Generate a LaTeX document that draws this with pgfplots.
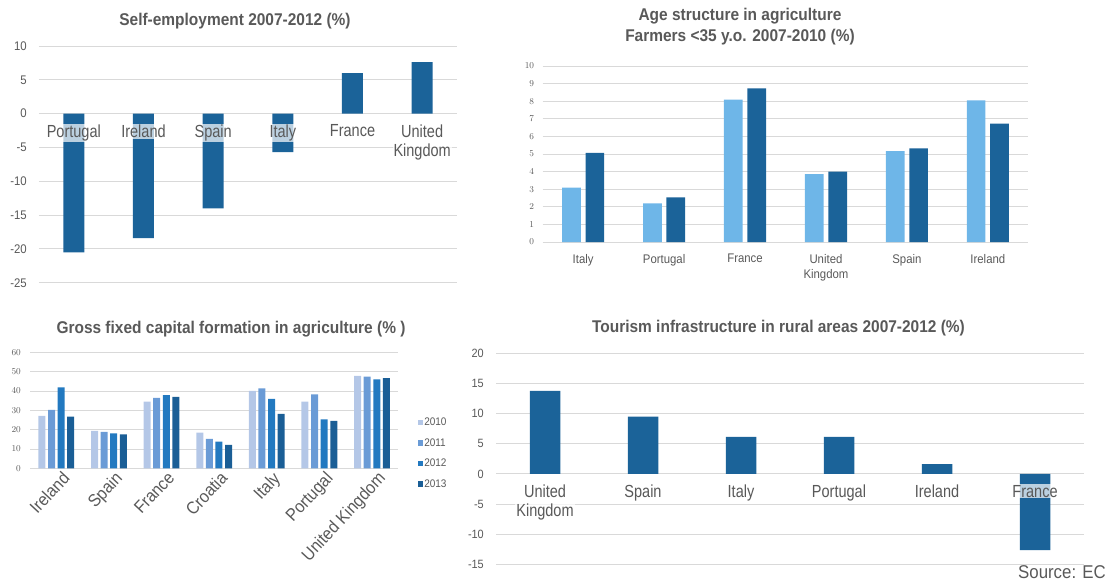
\documentclass[border=0pt]{standalone}
\usepackage{pgfplots}
\pgfplotsset{compat=1.18}
\usepackage{fontspec}
\setmainfont{Liberation Sans}
\newfontfamily\fA[FakeStretch=0.91]{Liberation Sans}
\newfontfamily\fB[FakeStretch=0.83]{Liberation Sans}

\definecolor{txt}{HTML}{595959}
\definecolor{gridgray}{HTML}{D9D9D9}
\definecolor{barblue}{HTML}{1B6399}
\definecolor{lightblue}{HTML}{6EB6E8}
\definecolor{yA}{HTML}{B4C7E7}
\definecolor{yB}{HTML}{6A9BD6}
\definecolor{yC}{HTML}{2279C0}
\definecolor{yD}{HTML}{1A5E96}

\pgfplotsset{
  panel/.style={
    scale only axis, clip=false,
    axis line style={draw=none},
    major tick length=0pt, tick style={draw=none},
    ymajorgrids, grid style={draw=gridgray, line width=0.8pt},
    xtick=\empty, xmin=-0.5, xmax=5.5,
    yticklabel style={text=txt, anchor=east, inner sep=0pt},
  },
  sq legend/.style={legend image code/.code={\fill[##1] (0pt,-2.6pt) rectangle (5.2pt,2.6pt);}},
}
\tikzset{
  cat/.style={anchor=north, font=\fB\fontsize{17.5}{19}\selectfont, text=txt, align=center,
    fill=white, fill opacity=0.7, text opacity=1, inner sep=1pt, yshift=-10pt},
  catsmall/.style={anchor=north, font=\fA\fontsize{12.5}{15.3}\selectfont, text=txt, align=center,
    inner sep=0pt, yshift=-12pt},
  ttl/.style={anchor=base, font=\fA\bfseries\fontsize{17}{20}\selectfont, text=txt},
}

\begin{document}
\begin{tikzpicture}
\path[use as bounding box] (0pt,0pt) rectangle (1108pt,582pt);

% Self-employment
\begin{scope}[shift={(39pt,299.3pt)}]
\begin{axis}[panel, width=418pt, height=236.7pt,
  ymin=-25, ymax=10, ytick={-25,-20,...,10}, yticklabels={-25,-20,-15,-10,-5,0,5,10},
  yticklabel style={font=\fA\fontsize{12.5}{14}\selectfont, xshift=-12pt},
  ybar, bar width=21pt]
\addplot[fill=barblue, draw=none] coordinates {(0,-20.5) (1,-18.4) (2,-14.0) (3,-5.7) (4,6.0) (5,7.6)};
\node[cat] at (axis cs:0,0) {Portugal};
\node[cat] at (axis cs:1,0) {Ireland};
\node[cat] at (axis cs:2,0) {Spain};
\node[cat] at (axis cs:3,0) {Italy};
\node[cat] at (axis cs:4,0) {France};
\node[cat] at (axis cs:5,0) {United\\Kingdom};
\end{axis}
\end{scope}

% Farmers under 35
\begin{scope}[shift={(542.7pt,340pt)}]
\begin{axis}[panel, width=485.6pt, height=176pt,
  ymin=0, ymax=10, ytick={0,1,...,10},
  yticklabel style={font=\fA\fontsize{9.5}{11}\selectfont, xshift=-8.4pt},
  ybar=4.7pt, bar width=18.7pt]
\addplot[fill=lightblue, draw=none] coordinates {(0,3.09) (1,2.20) (2,8.09) (3,3.86) (4,5.17) (5,8.05)};
\addplot[fill=barblue, draw=none] coordinates {(0,5.06) (1,2.54) (2,8.73) (3,4.00) (4,5.32) (5,6.72)};
\node[catsmall] at (axis cs:0,0) {Italy};
\node[catsmall] at (axis cs:1,0) {Portugal};
\node[catsmall] at (axis cs:2,0) {France};
\node[catsmall] at (axis cs:3,0) {United\\Kingdom};
\node[catsmall] at (axis cs:4,0) {Spain};
\node[catsmall] at (axis cs:5,0) {Ireland};
\end{axis}
\end{scope}

% Gross fixed capital formation
\begin{scope}[shift={(30pt,113.7pt)}]
\begin{axis}[panel, width=368.3pt, height=116pt,
  ymin=0, ymax=60, ytick={0,10,...,60},
  yticklabel style={font=\fB\fontsize{9.5}{11}\selectfont, xshift=-9pt},
  xmin=-0.5, xmax=6.5, xtick={0,...,6},
  xticklabels={Ireland,Spain,France,Croatia,Italy,Portugal,United Kingdom},
  xticklabel style={rotate=47, anchor=north east, font=\fA\fontsize{17.5}{19}\selectfont, text=txt,
    inner sep=1pt, yshift=-4pt, xshift=3pt},
  ybar=2.6pt, bar width=7pt,
  legend style={at={(1.045,0.13)}, anchor=west, draw=none, fill=none,
    font=\fA\fontsize{11}{12}\selectfont, text=txt, row sep=9.4pt,
    nodes={inner sep=1pt}},
  legend cell align=left]
\addplot[fill=yA, draw=none, sq legend] coordinates {(0,27.1) (1,19.3) (2,34.5) (3,18.4) (4,40.0) (5,34.5) (6,47.8)};
\addplot[fill=yB, draw=none, sq legend] coordinates {(0,30.2) (1,18.8) (2,36.4) (3,15.2) (4,41.4) (5,38.3) (6,47.4)};
\addplot[fill=yC, draw=none, sq legend] coordinates {(0,41.9) (1,18.1) (2,37.8) (3,13.8) (4,35.9) (5,25.3) (6,46.0)};
\addplot[fill=yD, draw=none, sq legend] coordinates {(0,26.7) (1,17.6) (2,36.9) (3,12.1) (4,28.1) (5,24.5) (6,46.6)};
\legend{2010,2011,2012,2013}
\end{axis}
\end{scope}

% Tourism infrastructure
\begin{scope}[shift={(496pt,17.7pt)}]
\begin{axis}[panel, width=588pt, height=211pt,
  ymin=-15, ymax=20, ytick={-15,-10,...,20}, yticklabels={-15,-10,-5,0,5,10,15,20},
  yticklabel style={font=\fA\fontsize{12}{14}\selectfont, xshift=-12pt},
  ybar, bar width=30.5pt]
\addplot[fill=barblue, draw=none] coordinates {(0,13.76) (1,9.51) (2,6.14) (3,6.14) (4,1.6) (5,-12.66)};
\node[cat] at (axis cs:0,0) {United\\Kingdom};
\node[cat] at (axis cs:1,0) {Spain};
\node[cat] at (axis cs:2,0) {Italy};
\node[cat] at (axis cs:3,0) {Portugal};
\node[cat] at (axis cs:4,0) {Ireland};
\node[cat] at (axis cs:5,0) {France};
\end{axis}
\end{scope}

% Titles and source
\node[ttl] at (235pt,556pt) {Self-employment 2007-2012 (\%)};
\node[ttl] at (740pt,561.3pt) {Age structure in agriculture};
\node[ttl] at (740pt,540.3pt) {Farmers <35 y.o. 2007-2010 (\%)};
\node[ttl] at (231pt,248.7pt) {Gross fixed capital formation in agriculture (\% )};
\node[ttl] at (778.5pt,249.3pt) {Tourism infrastructure in rural areas 2007-2012 (\%)};
\node[anchor=base east, font=\fA\fontsize{18.5}{20}\selectfont, text=txt, inner sep=0pt] at (1106pt,4pt) {Source: EC};
\end{tikzpicture}
\end{document}
